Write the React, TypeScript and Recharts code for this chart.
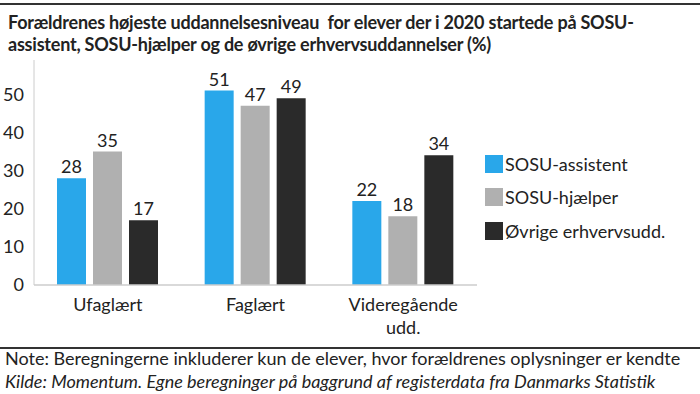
import { Bar, BarChart, LabelList, Text, XAxis, YAxis } from 'recharts'

const categories = ['Ufaglært', 'Faglært', 'Videregående udd.']
const sosuAssistent = [28, 51, 22]
const sosuHjaelper = [35, 47, 18]
const oevrige = [17, 49, 34]
const yTicks = [0, 10, 20, 30, 40, 50]

const series = [
  { key: 'assistent', name: 'SOSU-assistent', color: '#29a7ea', values: sosuAssistent },
  { key: 'hjaelper', name: 'SOSU-hjælper', color: '#b0b0b0', values: sosuHjaelper },
  { key: 'oevrige', name: 'Øvrige erhvervsudd.', color: '#2a2a2a', values: oevrige },
]

const FONT = 'Lato, "Open Sans", sans-serif'

function CategoryTick(props: any) {
  const { x, y, payload } = props
  return (
    <Text
      x={x}
      y={y + 5}
      width={115}
      textAnchor="middle"
      verticalAnchor="start"
      fontSize={18}
      fill="#222"
      fontFamily={FONT}
      lineHeight={23}
    >
      {payload.value}
    </Text>
  )
}

export default function App() {
  const data = categories.map((name, i) => {
    const row: Record<string, string | number> = { name }
    series.forEach((s) => {
      row[s.key] = s.values[i]
    })
    return row
  })

  return (
    <div
      style={{
        position: 'absolute',
        left: 0,
        top: 0,
        width: 700,
        height: 394,
        background: '#fff',
        fontFamily: FONT,
        color: '#222',
        overflow: 'hidden',
      }}
    >
      <div style={{ position: 'absolute', left: 0, top: 3, width: 700, height: 2, background: '#333' }} />
      <div
        style={{
          position: 'absolute',
          left: 8,
          top: 11,
          width: 700,
          fontSize: 18,
          fontWeight: 700,
          lineHeight: '22px',
          letterSpacing: -0.22,
          whiteSpace: 'nowrap',
        }}
      >
        Forældrenes højeste uddannelsesniveau&nbsp; for elever der i 2020 startede på SOSU-
        <br />
        assistent, SOSU-hjælper og de øvrige erhvervsuddannelser (%)
      </div>

      <div style={{ position: 'absolute', left: 0, top: 0 }}>
        <BarChart
          width={700}
          height={394}
          data={data}
          margin={{ top: 60, right: 223, bottom: 79, left: 0 }}
          barSize={29}
          barGap={7}
        >
          <XAxis
            dataKey="name"
            height={30}
            axisLine={{ stroke: '#cccccc', strokeWidth: 1.5 }}
            tickLine={false}
            tick={<CategoryTick />}
            interval={0}
          />
          <YAxis
            width={34}
            domain={[0, 59]}
            ticks={yTicks}
            axisLine={{ stroke: '#cccccc', strokeWidth: 1 }}
            tickLine={false}
            tickMargin={4}
            tick={{ fontSize: 18, fill: '#222', fontFamily: FONT }}
          />
          {series.map((s) => (
            <Bar key={s.key} dataKey={s.key} name={s.name} fill={s.color} isAnimationActive={false}>
              <LabelList
                dataKey={s.key}
                position="top"
                offset={5}
                style={{ fontSize: 18, fill: '#222', fontFamily: FONT }}
              />
            </Bar>
          ))}
        </BarChart>
      </div>

      <div style={{ position: 'absolute', left: 485, top: 147 }}>
        {series.map((s) => (
          <div key={s.key} style={{ display: 'flex', alignItems: 'center', height: 33.5, fontSize: 18 }}>
            <span style={{ width: 18, height: 18, background: s.color, marginRight: 2, display: 'inline-block' }} />
            <span>{s.name}</span>
          </div>
        ))}
      </div>

      <div style={{ position: 'absolute', left: 0, top: 347, width: 700, height: 2, background: '#333' }} />
      <div
        style={{
          position: 'absolute',
          left: 5,
          top: 347,
          fontSize: 18,
          lineHeight: '23px',
          whiteSpace: 'nowrap',
        }}
      >
        Note: Beregningerne inkluderer kun de elever, hvor forældrenes oplysninger er kendte
        <br />
        <i>Kilde: Momentum. Egne beregninger på baggrund af registerdata fra Danmarks Statistik</i>
      </div>
    </div>
  )
}
